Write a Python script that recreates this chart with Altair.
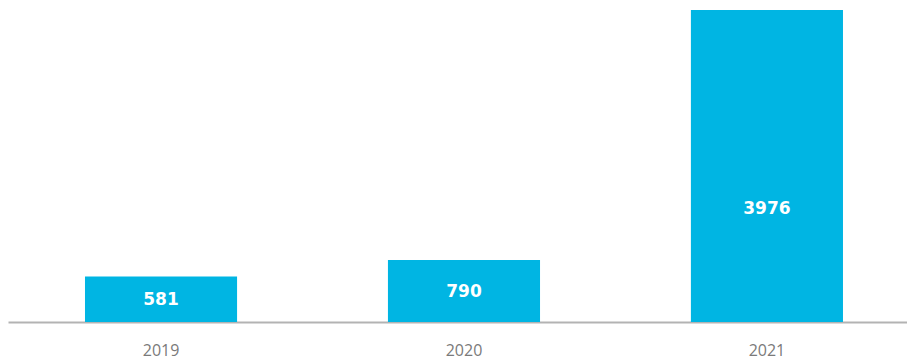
import altair as alt
import pandas as pd

years = ["2019", "2020", "2021"]
values = [581, 790, 3976]
label_pos = [280, 382, 1440]

df = pd.DataFrame({"year": years, "value": values, "label_y": label_pos})

x = alt.X(
    "year:N",
    sort=years,
    scale=alt.Scale(paddingInner=0.498, paddingOuter=0.2327, align=0.546),
    axis=alt.Axis(
        title=None,
        labelAngle=0,
        ticks=False,
        domain=True,
        domainColor="#b3b3b3",
        domainWidth=2,
        labelPadding=20,
        labelFont="Open Sans",
        labelFontSize=16,
        labelColor="#7a7a7a",
        labelFontWeight="normal",
    ),
)

bars = alt.Chart(df).mark_bar(color="#00B5E3").encode(
    x=x,
    y=alt.Y("value:Q", scale=alt.Scale(domain=[0, 3976], nice=False), axis=None),
)

labels = alt.Chart(df).mark_text(
    color="white", font="DejaVu Sans", fontWeight="bold", fontSize=17, baseline="middle"
).encode(
    x=alt.X("year:N", sort=years),
    y=alt.Y("label_y:Q"),
    text=alt.Text("value:Q", format="d"),
)

chart = (
    alt.layer(bars, labels)
    .properties(
        width=899,
        height=312,
        padding={"left": 8, "right": 0, "top": 10, "bottom": 37},
        autosize=alt.AutoSizeParams(type="none"),
        background="white",
    )
    .configure_view(stroke=None)
)

chart.save("out.html", embed_options={"renderer": "svg", "actions": False})
